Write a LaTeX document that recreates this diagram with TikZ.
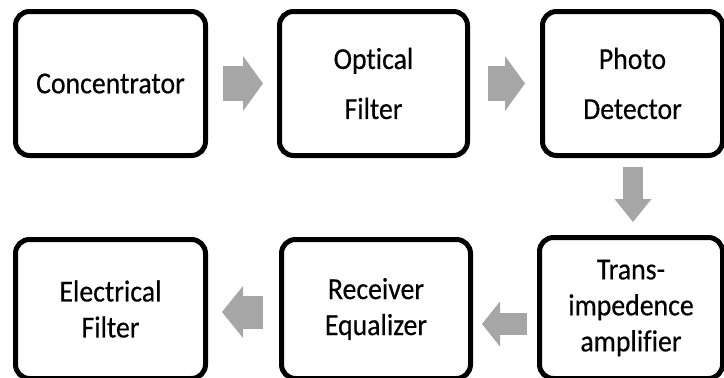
\documentclass[tikz,border=0pt]{standalone}
\usepackage{fontspec}
\setmainfont{Carlito}[Ligatures=NoCommon, FakeStretch=0.91, FakeBold=0.4]
\usetikzlibrary{arrows.meta}
\definecolor{arrowgray}{HTML}{A6A6A6}
\tikzset{
  blockbox/.style={draw=black, line width=5pt, rounded corners=14pt, fill=white,
    inner sep=0pt, align=center},
  toprow/.style={font=\fontsize{30.5}{50}\selectfont},
  botrow/.style={font=\fontsize{30.5}{36}\selectfont},
  blockarrow/.style={draw=arrowgray, line width=#1, -{Triangle[length=20pt, width=55pt, line width=0pt]}},
}
\begin{document}
\begin{tikzpicture}[x=1pt, y=-1pt]
\useasboundingbox (0,0) rectangle (724,378);
% top row
\node[blockbox, toprow, minimum width=190pt, minimum height=144pt] (b1) at (110.5,83.5) {Concentrator};
\node[blockbox, toprow, minimum width=188pt, minimum height=144pt] (b2) at (373.5,83.5) {Optical\\Filter};
\node[blockbox, toprow, minimum width=180pt, minimum height=144pt] (b3) at (632.5,83.5) {Photo\\Detector};
% bottom row
\node[blockbox, botrow, minimum width=190pt, minimum height=139pt] (b4) at (110.5,309) {Electrical\\Filter};
\node[blockbox, botrow, minimum width=189pt, minimum height=139pt] (b5) at (376,309) {Receiver\\Equalizer};
\node[blockbox, botrow, minimum width=183pt, minimum height=141pt] (b6) at (631,308) {Trans-\\impedence\\amplifier};
% helper levels
\coordinate (ylow) at (0,324);
\coordinate (ymid) at (0,312);
\coordinate (xdown) at (633,0);
% arrows
\draw[blockarrow=35pt, shorten <=15pt, shorten >=14pt] (b1.east) -- (b2.west);
\draw[blockarrow=35pt, shorten <=18pt, shorten >=15pt] (b2.east) -- (b3.west);
\draw[draw=arrowgray, line width=20pt, -{Triangle[length=23pt, width=37pt, line width=0pt]},
      shorten <=9pt, shorten >=13pt] (xdown |- b3.south) -- (xdown |- b6.north);
\draw[draw=arrowgray, line width=22pt, -{Triangle[length=18pt, width=45pt, line width=0pt]},
      shorten <=10pt, shorten >=9pt] (b6.west |- ylow) -- (b5.east |- ylow);
\draw[draw=arrowgray, line width=33pt, -{Triangle[length=21pt, width=52pt, line width=0pt]},
      shorten <=16pt, shorten >=14pt] (b5.west |- ymid) -- (b4.east |- ymid);
\end{tikzpicture}
\end{document}
